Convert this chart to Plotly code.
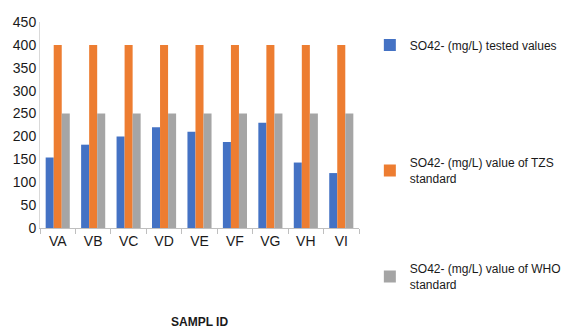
import plotly.graph_objects as go

samples = ["VA", "VB", "VC", "VD", "VE", "VF", "VG", "VH", "VI"]
tested = [154, 182, 200, 220, 210, 188, 230, 143, 120]
tzs_standard = [400, 400, 400, 400, 400, 400, 400, 400, 400]
who_standard = [250, 250, 250, 250, 250, 250, 250, 250, 250]

names = [
    "SO42- (mg/L) tested values",
    "SO42- (mg/L) value of TZS<br>standard",
    "SO42- (mg/L) value of WHO<br>standard",
]
colors = ["#4472C4", "#ED7D31", "#A5A5A5"]
series = [tested, tzs_standard, who_standard]
legend_ids = ["legend", "legend2", "legend3"]

FONT = "Liberation Sans, Arial, sans-serif"
TEXT = "#1a1a1a"

# plot area in pixels: x 40..359, y 22..228
PLOT_TOP, PLOT_H = 22, 206


def paper_y(px):
    return 1 - (px - PLOT_TOP) / PLOT_H


fig = go.Figure()
for name, vals, col, lg in zip(names, series, colors, legend_ids):
    fig.add_trace(go.Bar(x=samples, y=vals, name=name, marker_color=col,
                         marker_line_width=0, legend=lg, showlegend=True))

legend_style = dict(font=dict(family=FONT, size=12, color=TEXT),
                    bgcolor="rgba(0,0,0,0)", xanchor="left", yanchor="middle",
                    xref="paper", yref="paper", itemwidth=30, x=1.034,
                    visible=True)

fig.update_layout(
    width=569, height=331,
    margin=dict(l=40, r=210, t=22, b=103, autoexpand=False),
    paper_bgcolor="white", plot_bgcolor="white",
    showlegend=True,
    barmode="group", bargap=0.32, bargroupgap=0,
    font=dict(family=FONT, size=14, color=TEXT),
    legend=dict(y=paper_y(45), **legend_style),
    legend2=dict(y=paper_y(171), **legend_style),
    legend3=dict(y=paper_y(277), **legend_style),
    xaxis=dict(showline=True, linecolor="#bfbfbf", linewidth=1,
               ticks="outside", tickson="boundaries", ticklen=5,
               tickcolor="#bfbfbf", tickangle=0,
               tickfont=dict(family=FONT, size=14, color=TEXT),
               showgrid=False),
    yaxis=dict(range=[0, 450], dtick=50, showline=True, linecolor="#d9d9d9",
               linewidth=1, showgrid=False, zeroline=False, ticks="",
               tickfont=dict(family=FONT, size=14, color=TEXT)),
    annotations=[dict(text="<b>SAMPL ID</b>", x=0.5, xref="paper",
                      y=paper_y(322), yref="paper", yanchor="middle",
                      showarrow=False,
                      font=dict(family=FONT, size=12, color=TEXT))],
)

fig.write_html("out.html")
